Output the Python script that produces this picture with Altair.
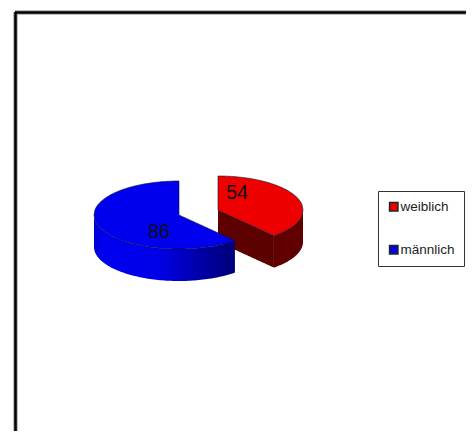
import math
import altair as alt
import pandas as pd

labels = ["weiblich", "männlich"]
values = [54, 86]
face_colors = ["#ee0000", "#0000ee"]

CENTERS = {"weiblich": (218, 210), "männlich": (179, 215)}
RX, RY, DEPTH = 85, 34, 32
total = sum(values)
split = values[0] / total * 2 * math.pi
STEPS = 90
X0, Y0, X1, Y1 = 8, 8, 466, 431


def ell(slice_name, a):
    cx, cy = CENTERS[slice_name]
    return cx + RX * math.sin(a), cy - RY * math.cos(a)


def half(x, cx):
    return RY * math.sqrt(max(0, 1 - ((x - cx) / RX) ** 2))


def top_face(name):
    cx, cy = CENTERS[name]
    rows = []
    ex, ey = ell(name, split)
    if name == "weiblich":
        for k in range(STEPS + 1):
            x = cx + RX * k / STEPS
            h = half(x, cx)
            low = cy + (x - cx) * (ey - cy) / (ex - cx) if x <= ex else cy + h
            rows.append(dict(slice=name, x=x, y=cy - h, y2=low))
    else:
        for k in range(STEPS + 1):
            x = cx - RX + RX * k / STEPS
            h = half(x, cx)
            rows.append(dict(slice=name, x=x, y=cy - h, y2=cy + h))
        for k in range(STEPS + 1):
            x = cx + 0.01 + (ex - cx - 0.01) * k / STEPS
            rows.append(dict(slice=name, x=x, y=cy + (ey - cy) * (x - cx) / (ex - cx), y2=cy + half(x, cx)))
    return rows


def rim(name, a0, a1):
    rows = []
    for k in range(STEPS + 1):
        a = a0 + (a1 - a0) * k / STEPS
        x, y = ell(name, a)
        rows.append(dict(x=x, y=y, y2=y + DEPTH))
    return pd.DataFrame(rows)


def wall():
    cx, cy = CENTERS["weiblich"]
    ex, ey = ell("weiblich", split)
    rows = []
    for k in range(STEPS + 1):
        t = k / STEPS
        y = cy + (ey - cy) * t
        rows.append(dict(x=cx + (ex - cx) * t, y=y, y2=y + DEPTH))
    return pd.DataFrame(rows)


X = alt.Scale(domain=[X0, X1], nice=False, zero=False)
Y = alt.Scale(domain=[Y1, Y0], nice=False, zero=False)


def xq(f="x"):
    return alt.X(f + ":Q", scale=X, axis=None)


def yq(f="y"):
    return alt.Y(f + ":Q", scale=Y, axis=None, stack=None)


blue_side = alt.Gradient(
    gradient="linear", x1=0, x2=1, y1=0, y2=0,
    stops=[
        alt.GradientStop(offset=0, color="#0000d8"),
        alt.GradientStop(offset=0.08, color="#0000f0"),
        alt.GradientStop(offset=0.45, color="#0000e8"),
        alt.GradientStop(offset=0.75, color="#0000a8"),
        alt.GradientStop(offset=1, color="#000078"),
    ],
)


def band(df, color):
    return alt.Chart(df).mark_area(color=color).encode(x=xq(), y=yq(), y2="y2:Q")


red_rim = band(rim("weiblich", math.pi / 2, split), "#600000")
red_wall = band(wall(), "#5c0000")
blue_rim = band(rim("männlich", split, 1.5 * math.pi), blue_side)

faces = pd.DataFrame(top_face("weiblich") + top_face("männlich"))
top = alt.Chart(faces).mark_area(stroke="#101030", strokeWidth=0.6).encode(
    x=xq(),
    y=yq(),
    y2="y2:Q",
    color=alt.Color(
        "slice:N",
        scale=alt.Scale(domain=labels, range=face_colors),
        legend=alt.Legend(
            title=None,
            orient="none",
            legendX=370,
            legendY=183,
            symbolType="square",
            symbolSize=70,
            symbolStrokeColor="#222222",
            symbolStrokeWidth=1.5,
            labelFont="Liberation Sans",
            labelFontSize=13.5,
            labelColor="#222222",
            labelOffset=0,
            rowPadding=28,
            padding=9,
            strokeColor="#333333",
            fillColor="#ffffff",
            labelLimit=200,
        ),
    ),
)

text_df = pd.DataFrame(
    {
        "label": [str(v) for v in values],
        "x": [CENTERS["weiblich"][0] + 19, CENTERS["männlich"][0] - 20],
        "y": [CENTERS["weiblich"][1] - 17, CENTERS["männlich"][1] + 17],
    }
)
texts = alt.Chart(text_df).mark_text(
    font="Liberation Sans", fontSize=20, color="#101010", baseline="middle", align="center"
).encode(x=xq(), y=yq(), text="label:N")

frame_h = pd.DataFrame({"x": [15], "x2": [X1], "y": [12.5]})
frame_v = pd.DataFrame({"x": [15.5], "y": [12], "y2": [Y1]})


def frame(color, width):
    h = alt.Chart(frame_h).mark_rule(color=color, strokeWidth=width).encode(
        x=xq(), x2="x2:Q", y=alt.Y("y:Q", scale=Y, axis=None)
    )
    v = alt.Chart(frame_v).mark_rule(color=color, strokeWidth=width).encode(
        x=xq(), y=alt.Y("y:Q", scale=Y, axis=None), y2="y2:Q"
    )
    return h + v


chart = alt.layer(
    frame("#a8a8a8", 4.5),
    frame("#000000", 2.5),
    red_rim,
    red_wall,
    blue_rim,
    top,
    texts,
).properties(
    width=X1 - X0,
    height=Y1 - Y0,
    padding=0,
    background="#ffffff",
    autosize=alt.AutoSizeParams(type="none"),
).configure_view(stroke=None)

chart.save("out.html", embed_options={"renderer": "svg", "actions": False})
